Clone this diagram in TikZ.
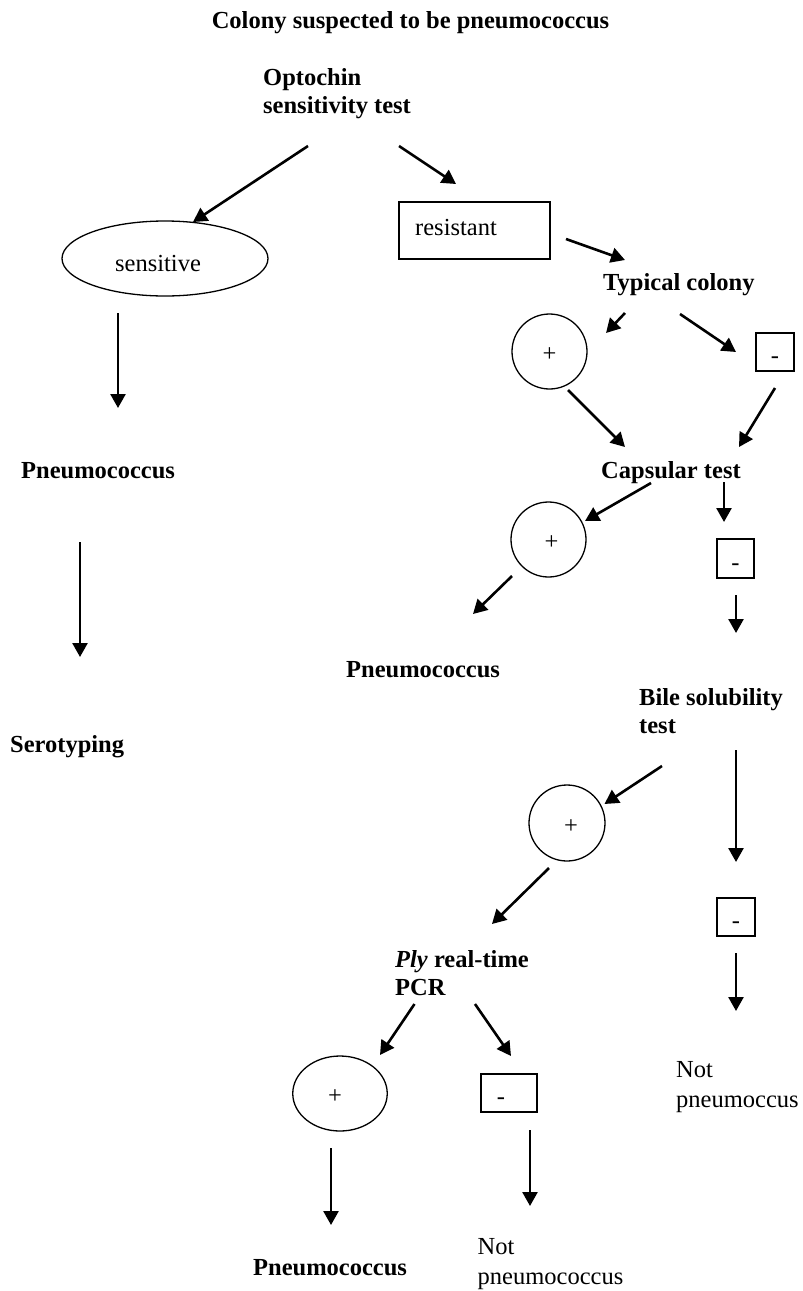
\documentclass[tikz,border=0pt]{standalone}
\usepackage{fontspec}
\setmainfont{Liberation Serif}
\usetikzlibrary{arrows.meta,shapes.geometric,calc}
\begin{document}
\begin{tikzpicture}[x=1pt,y=-1pt,
  txt/.style={inner sep=0pt,font=\fontsize{24.5}{28}\selectfont},
  btxt/.style={inner sep=0pt,font=\fontsize{24.5}{28}\selectfont\bfseries},
  ntxt/.style={inner sep=0pt,font=\fontsize{24.5}{29.5}\selectfont},
  oval/.style={draw,ellipse,line width=1.3pt,inner sep=0pt,font=\fontsize{24.5}{28}\selectfont,text height=20pt,text depth=0pt},
  box/.style={draw,rectangle,line width=1.3pt,inner sep=0pt,font=\fontsize{24.5}{28}\selectfont},
  minus/.style={box,text height=23pt,text depth=0pt},
  arr/.style={line width=2.6pt,-{Triangle[length=14pt,width=15pt]}}]
\useasboundingbox (0,0) rectangle (803,1291);

% text nodes
\node[btxt,anchor=base] (title) at (410.5,28) {Colony suspected to be pneumococcus};
\node[btxt,anchor=north west,align=left] (opt) at (263,68) {Optochin\\sensitivity test};
\node[btxt,anchor=base west] (typ) at (603,290) {Typical colony};
\node[btxt,anchor=base west] (cap) at (601,478) {Capsular test};
\node[btxt,anchor=base west] (pn1) at (21,478) {Pneumococcus};
\node[btxt,anchor=base west] (sero) at (10,752) {Serotyping};
\node[btxt,anchor=base west] (pn2) at (346,677) {Pneumococcus};
\node[btxt,anchor=north west,align=left] (bile) at (639,688) {Bile solubility\\test};
\node[btxt,anchor=north west,align=left] (ply) at (395,950) {\textit{Ply} real-time\\PCR};
\node[ntxt,anchor=north west,align=left] (notA) at (676,1061.5) {Not\\pneumoccus};
\node[btxt,anchor=base west] (pn3) at (253,1275) {Pneumococcus};
\node[ntxt,anchor=north west,align=left] (notB) at (477.5,1238.5) {Not\\pneumococcus};

% shapes
\node[oval,minimum width=206pt,minimum height=75pt] (sens) at (165,258.5) {};
\node[txt,anchor=base] (sensT) at (158,271) {sensitive};
\node[box,minimum width=151pt,minimum height=57pt] (res) at (474.5,230.5) {};
\node[txt,anchor=base west] (resT) at (415,235) {resistant};
\node[oval,minimum width=75pt,minimum height=75pt] (c1) at (549.5,351.5) {+};
\node[minus,minimum width=38pt,minimum height=38pt] (m1) at (775,352) {-};
\node[oval,minimum width=75pt,minimum height=75pt] (c2) at (548.5,539.5) {\hspace*{6pt}+};
\node[minus,minimum width=37pt,minimum height=39pt] (m2) at (735.5,558.5) {-};
\node[oval,minimum width=76pt,minimum height=76pt] (c3) at (567,823) {\hspace*{8pt}+};
\node[minus,minimum width=38pt,minimum height=38pt] (m3) at (736,917) {-};
\node[oval,minimum width=94.5pt,minimum height=75pt] (c4) at (340,1093.5) {+\hspace*{10pt}};
\node[minus,minimum width=56pt,minimum height=38pt] (m4) at (509,1093) {-\hspace*{16pt}};

% connectors
\draw[arr] ($(opt.north west)+(45,78)$) -- ($(sens.center)+(28,-36.5)$);
\draw[arr] ($(opt.north west)+(136,78)$) -- ($(res.center)+(-18.5,-46.5)$);
\draw[arr] ($(sens.center)+(-47,54.5)$) -- ($(pn1.base west)+(97,-70)$);
\draw[arr] ($(res.center)+(91.5,8.5)$) -- ($(typ.base west)+(22,-30)$);
\draw[arr] ($(typ.base west)+(22,23)$) -- ($(c1.center)+(56.5,-18.5)$);
\draw[arr] ($(typ.base west)+(77,24)$) -- ($(m1.center)+(-39,0)$);
\draw[arr] ($(c1.center)+(18.5,38.5)$) -- ($(cap.base west)+(24,-31)$);
\draw[arr] ($(m1.center)+(0,36)$) -- ($(cap.base west)+(138,-31)$);
\draw[arr] ($(pn1.base west)+(59,64)$) -- ($(sero.base west)+(70,-95)$);
\draw[arr] ($(cap.base west)+(50,5)$) -- ($(c2.center)+(36.5,-18.5)$);
\draw[arr] ($(cap.base west)+(123,4)$) -- ($(m2.center)+(-11.5,-36.5)$);
\draw[arr] ($(c2.center)+(-36.5,36.5)$) -- ($(pn2.base west)+(127,-63)$);
\draw[arr] ($(m2.center)+(0.5,36.5)$) -- ($(bile.north west)+(97,-55)$);
\draw[arr] ($(bile.north west)+(23,78)$) -- ($(c3.center)+(37.5,-19)$);
\draw[arr] ($(bile.north west)+(97,62)$) -- ($(m3.center)+(0,-55)$);
\draw[arr] ($(c3.center)+(-18,45)$) -- ($(ply.north west)+(97,-26)$);
\draw[arr] ($(m3.center)+(0,36)$) -- ($(notA.north west)+(60,-50.5)$);
\draw[arr] ($(ply.north west)+(19.5,54)$) -- ($(c4.center)+(40,-38.5)$);
\draw[arr] ($(ply.north west)+(80,54)$) -- ($(m4.center)+(2,-37)$);
\draw[arr] ($(c4.center)+(-9,54.5)$) -- ($(pn3.base west)+(78,-50)$);
\draw[arr] ($(m4.center)+(21,37)$) -- ($(notB.north west)+(52.5,-32.5)$);
\end{tikzpicture}
\end{document}
